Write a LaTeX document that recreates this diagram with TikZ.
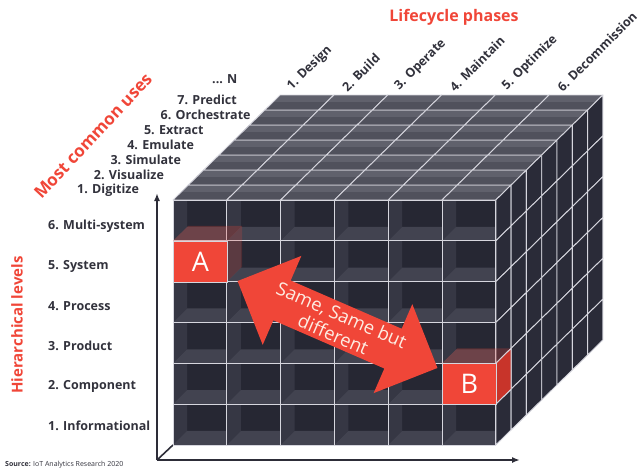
\documentclass[tikz,border=0pt]{standalone}
\usepackage{fontspec}
\setmainfont{Open Sans}
\usetikzlibrary{shapes.arrows,arrows.meta}

\definecolor{redhi}{RGB}{240,70,56}
\definecolor{reddark}{RGB}{200,52,42}
\definecolor{cellback}{RGB}{38,39,51}
\definecolor{cellwall}{RGB}{54,55,68}
\definecolor{cellfloor}{RGB}{66,67,80}
\definecolor{topface}{RGB}{80,81,92}
\definecolor{toplight}{RGB}{96,97,108}
\definecolor{sideface}{RGB}{42,43,56}
\definecolor{gridline}{RGB}{214,214,222}
\definecolor{labeltext}{RGB}{50,50,60}
\definecolor{axisline}{RGB}{45,45,56}
\definecolor{cream}{RGB}{253,236,226}

\def\cw{53.8}
\def\rh{40.83}
\def\dx{15.3}
\def\dy{15}
\def\wall{14}

\begin{document}
\begin{tikzpicture}[x=1pt, y=-1pt,
  cell/.style={draw=gridline, line width=0.9pt, line join=round},
  darklabel/.style={font=\bfseries\fontsize{12.5}{14}\selectfont, text=labeltext, inner sep=0pt},
  redtitle/.style={font=\bfseries\fontsize{16}{18}\selectfont, text=redhi, inner sep=0pt},
  axisarrow/.style={draw=axisline, line width=1.6pt, -{Latex[length=8pt,width=6pt]}},
  redcell/.style={fill=redhi, draw=gridline, line width=0.9pt, text=white,
                  font=\fontsize{27}{30}\selectfont, inner sep=0pt,
                  minimum width=\cw, minimum height=\rh, anchor=north west},
]
  \useasboundingbox (0,0) rectangle (642,472);

  % Axes
  \coordinate (origin) at (157,460);
  \coordinate (levelend) at (157,193);
  \coordinate (phaseend) at (520,460);
  \coordinate (cubecorner) at (173,{200+6*\rh});
  \draw[axisarrow] (origin) -- (levelend);
  \draw[axisarrow] (origin) -- (phaseend);
  \draw[draw=axisline, line width=1.6pt] (origin) -- (cubecorner);

  % Top face
  \foreach \i in {0, ..., 5} {
    \foreach \k in {0, ..., 6} {
      \pgfmathsetmacro\xa{173+\i*\cw+\k*\dx}
      \pgfmathsetmacro\ya{200-\k*\dy}
      \fill[topface] (\xa,\ya) -- ++(\cw,0) -- ++(\dx,-\dy) -- ++(-\cw,0) -- cycle;
      \fill[toplight] ({\xa+0.55*\dx},{\ya-0.55*\dy}) -- ++(\cw,0)
            -- ++({0.45*\dx},{-0.45*\dy}) -- ++(-\cw,0) -- cycle;
      \draw[cell] (\xa,\ya) -- ++(\cw,0) -- ++(\dx,-\dy) -- ++(-\cw,0) -- cycle;
    }
  }

  % Right face
  \foreach \j in {0, ..., 5} {
    \foreach \k in {0, ..., 6} {
      \pgfmathsetmacro\xa{173+6*\cw+\k*\dx}
      \pgfmathsetmacro\ya{200+\j*\rh-\k*\dy}
      \fill[sideface, cell] (\xa,\ya) -- ++(\dx,-\dy) -- ++(0,\rh) -- ++(-\dx,\dy) -- cycle;
    }
  }

  % Front face
  \foreach \i in {0, ..., 5} {
    \foreach \j in {0, ..., 5} {
      \pgfmathsetmacro\xa{173+\i*\cw}
      \pgfmathsetmacro\ya{200+\j*\rh}
      \pgfmathsetmacro\xb{\xa+\cw}
      \pgfmathsetmacro\yb{\ya+\rh}
      \fill[cellback] (\xa,\ya) rectangle (\xb,\yb);
      \fill[cellwall] (\xa,\ya) -- (\xa,\yb) -- ({\xa+\wall},{\yb-\wall}) -- ({\xa+\wall},\ya) -- cycle;
      \fill[cellfloor] (\xa,\yb) -- (\xb,\yb) -- (\xb,{\yb-\wall}) -- ({\xa+\wall},{\yb-\wall}) -- cycle;
      \draw[cell] (\xa,\ya) rectangle (\xb,\yb);
    }
  }

  % Cell A
  \fill[redhi, opacity=0.25] (173,{200+\rh}) -- ++(\cw,0) -- ++(\dx,-\dy) -- ++(-\cw,0) -- cycle;
  \fill[redhi, opacity=0.2] ({173+\cw},{200+\rh}) -- ++(\dx,-\dy) -- ++(0,\rh) -- ++(-\dx,\dy) -- cycle;
  \node[redcell] (cellA) at (173,{200+\rh}) {A};

  % Cell B
  \fill[redhi, opacity=0.25] ({173+5*\cw},{200+4*\rh}) -- ++(\cw,0) -- ++(\dx,-\dy) -- ++(-\cw,0) -- cycle;
  \fill[reddark, cell] ({173+6*\cw},{200+4*\rh}) -- ++(\dx,-\dy) -- ++(0,\rh) -- ++(-\dx,\dy) -- cycle;
  \node[redcell] (cellB) at ({173+5*\cw},{200+4*\rh}) {B};

  % Arrow between A and B
  \node[double arrow, fill=redhi, rotate=-23.5, minimum height=218pt, minimum width=97pt,
        double arrow head extend=22pt, inner sep=0pt, align=center, text=cream,
        font=\fontsize{18.5}{21}\selectfont] (samearrow) at (337.5,324.5) {Same, Same but\\different};

  % Hierarchical levels
  \foreach \n/\t in {1/Informational, 2/Component, 3/Product, 4/Process, 5/System, 6/Multi-system} {
    \node[darklabel, anchor=west] (level\n) at (48, {426-40*(\n-1)}) {\n. \t};
  }
  \node[redtitle, rotate=90, font=\bfseries\fontsize{15}{17}\selectfont] (levels) at (17,325) {Hierarchical levels};

  % Most common uses
  \foreach \n/\t in {1/Digitize, 2/Visualize, 3/Simulate, 4/Emulate, 5/Extract, 6/Orchestrate, 7/Predict} {
    \node[darklabel, anchor=west] (use\n) at ({77+16.7*(\n-1)}, {190-15*(\n-1)}) {\n. \t};
  }
  \node[darklabel, anchor=west] (useN) at (212,79) {... N};
  \node[redtitle, rotate=47, font=\bfseries\fontsize{17}{19}\selectfont] (uses) at (93,136) {Most common uses};

  % Lifecycle phases
  \foreach \n/\t in {1/Design, 2/Build, 3/Operate, 4/Maintain, 5/Optimize, 6/Decommission} {
    \node[darklabel, rotate=45, anchor=south west] (phase\n) at ({173+(\n-0.5)*\cw+94}, 93) {\n. \t};
  }
  \node[redtitle] (phases) at (454,17) {Lifecycle phases};

  \node[anchor=west, inner sep=0pt, text=labeltext, font=\fontsize{7}{8}\selectfont] (source) at (5,465)
        {\textbf{Source:} IoT Analytics Research 2020};
\end{tikzpicture}
\end{document}
